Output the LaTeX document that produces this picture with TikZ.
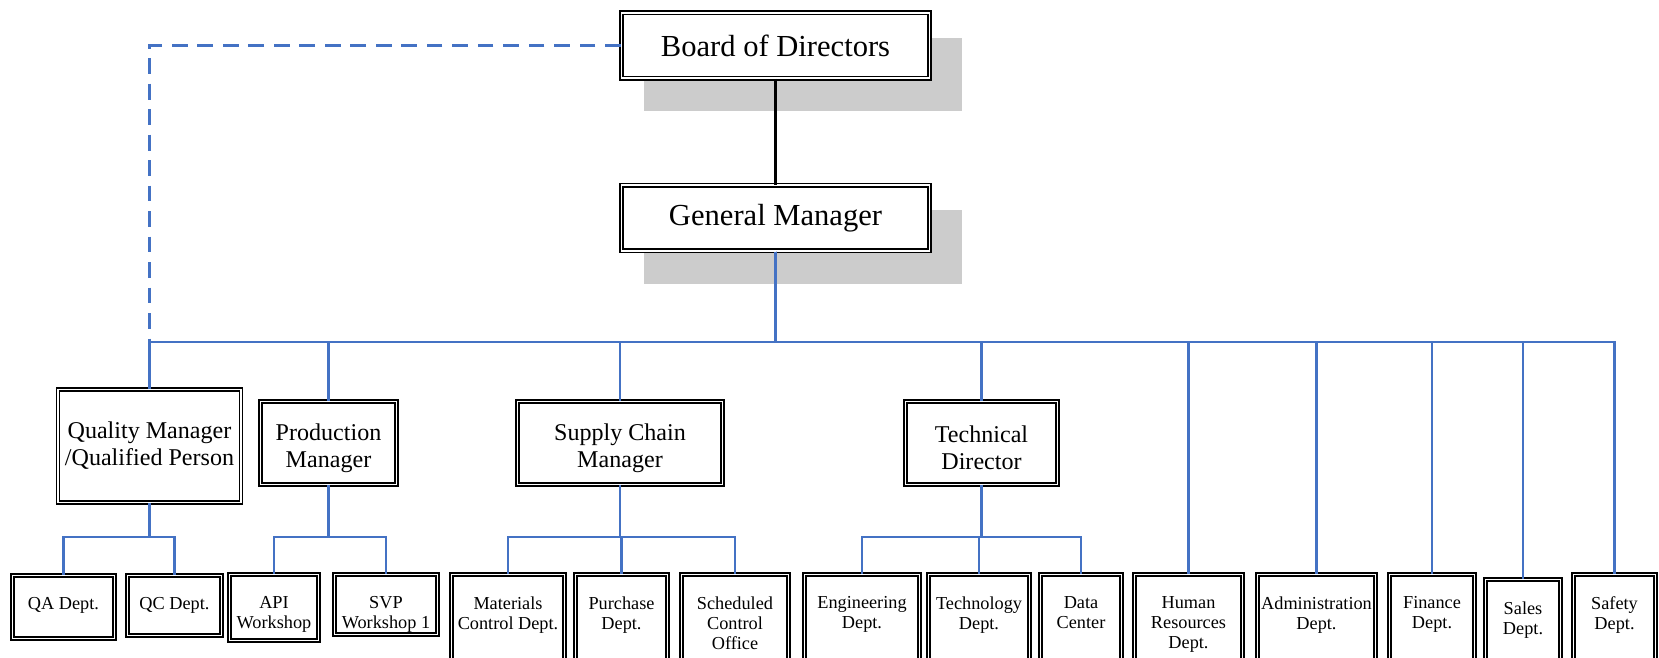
\documentclass[tikz,border=0pt]{standalone}
\usepackage{fontspec}
\setmainfont{Liberation Serif}
\usetikzlibrary{calc, backgrounds}
\definecolor{linkblue}{HTML}{4472C4}

\tikzset{
    dbox/.style={draw, double, double distance=1pt, line width=0.85pt, fill=white, inner sep=1pt, align=center},
    topbox/.style={dbox, minimum width=6.16cm, minimum height=1.31cm, font=\fontsize{17.4}{20}\selectfont},
    mgrbox/.style={dbox, minimum height=1.66cm, font=\fontsize{13.7}{15.3}\selectfont},
    lowtext/.style={text height=30.7pt},
    depttext/.style={anchor=north, align=center, inner sep=0pt, yshift=-0.45cm, font=\fontsize{10.4}{11.3}\selectfont},
    dept/.style={dbox, minimum height=1.74cm, label={[depttext]north:{#1}}},
    link/.style={draw=linkblue, line width=1.2pt},
    shadowfill/.style={fill=black!20},
}

\begin{document}
\begin{tikzpicture}[x=0.02cm, y=-0.02cm]
    \useasboundingbox (0,0) rectangle (1659,657);

    \node[topbox] (bod) at (775.5,45.5) {Board of Directors};
    \node[topbox] (gm) at (775.5,218) {General Manager};

    \node[mgrbox, minimum width=3.66cm, minimum height=2.26cm] (qm) at (149.5,446) {Quality Manager\\/Qualified Person};
    \node[mgrbox, lowtext, minimum width=2.72cm] (pm) at (328.5,443) {Production\\Manager};
    \node[mgrbox, lowtext, minimum width=4.10cm] (scm) at (620,443) {Supply Chain\\Manager};
    \node[mgrbox, lowtext, minimum width=3.04cm] (td) at (981.5,443) {Technical\\Director};

    \node[dept={QA Dept.}, minimum width=2.04cm, minimum height=1.26cm] (qa) at (63.5,607) {};
    \node[dept={QC Dept.}, minimum width=1.88cm, minimum height=1.20cm] (qc) at (174.5,605.5) {};
    \node[dept={API\\Workshop}, minimum width=1.78cm, minimum height=1.32cm] (api) at (274,607.5) {};
    \node[dept={SVP\\Workshop 1}, minimum width=2.06cm, minimum height=1.20cm] (svp) at (386,604.5) {};
    \node[dept={Materials\\Control Dept.}, minimum width=2.26cm] (mat) at (508,618) {};
    \node[dept={Purchase\\Dept.}, minimum width=1.84cm] (pur) at (621.5,618) {};
    \node[dept={Scheduled\\Control\\Office}, minimum width=2.14cm] (sch) at (735,618) {};
    \node[dept={Engineering\\Dept.}, minimum width=2.30cm] (eng) at (862,618) {};
    \node[dept={Technology\\Dept.}, minimum width=2.02cm] (tec) at (979,618) {};
    \node[dept={Data\\Center}, minimum width=1.62cm] (dat) at (1081,618) {};
    \node[dept={Human\\Resources\\Dept.}, minimum width=2.16cm] (hr) at (1188.5,618) {};
    \node[dept={Administration\\Dept.}, minimum width=2.36cm] (adm) at (1316.5,618) {};
    \node[dept={Finance\\Dept.}, minimum width=1.70cm] (fin) at (1432,618) {};
    \node[dept={Sales\\Dept.}, minimum width=1.50cm, minimum height=1.64cm] (sal) at (1523,620.5) {};
    \node[dept={Safety\\Dept.}, minimum width=1.64cm] (saf) at (1614.5,618) {};

    \begin{scope}[on background layer]
        \fill[shadowfill] ($(bod.south west)+(23.5,32.5)$) rectangle ($(bod.north east)+(31.5,25.5)$);
        \fill[shadowfill] ($(gm.south west)+(23.5,32.5)$) rectangle ($(gm.north east)+(31.5,25.5)$);
    \end{scope}

    \draw[line width=1.2pt] (bod) -- (gm);
    \draw[link, dash pattern=on 9pt off 5.5pt] (bod.west) -| (qm.north);

    \coordinate (busy) at (0,342);
    \coordinate (suby) at (0,537);
    \foreach \n in {qm,pm,scm,td,hr,adm,fin,sal,saf}
        \draw[link] (gm.south) -- (gm.south |- busy) -| (\n.north);
    \foreach \p/\c in {qm/qa,qm/qc,pm/api,pm/svp,scm/mat,scm/pur,scm/sch,td/eng,td/tec,td/dat}
        \draw[link] (\p.south) -- (\p.south |- suby) -| (\c.north);
\end{tikzpicture}
\end{document}
